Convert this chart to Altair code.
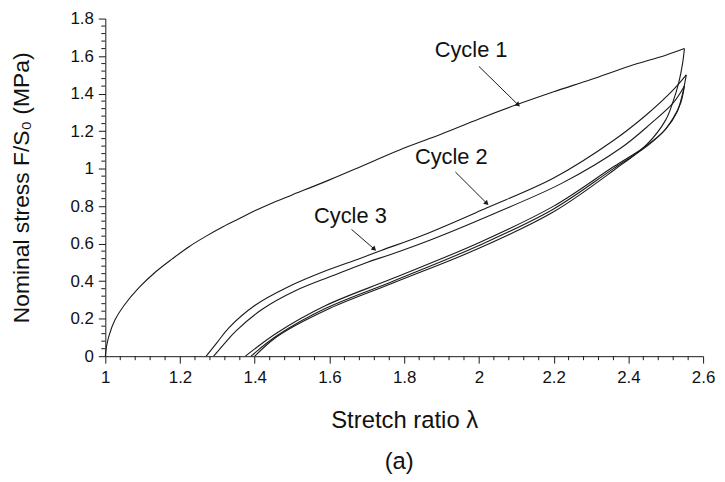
import altair as alt
import pandas as pd

# ---------------- data ----------------
c1_load_x = [1.0, 1.003, 1.01, 1.025, 1.05, 1.09, 1.135, 1.18, 1.225, 1.27, 1.315, 1.36, 1.40, 1.45, 1.50, 1.60, 1.70, 1.80, 1.90, 2.00, 2.10, 2.20, 2.30, 2.40, 2.50, 2.55]
c1_load_y = [0.0, 0.05, 0.11, 0.19, 0.27, 0.365, 0.45, 0.52, 0.585, 0.64, 0.69, 0.735, 0.775, 0.82, 0.86, 0.94, 1.025, 1.11, 1.185, 1.265, 1.34, 1.41, 1.475, 1.545, 1.605, 1.64]

c1_unload_x = [2.55, 2.545, 2.535, 2.52, 2.50, 2.45, 2.36, 2.20, 2.00, 1.77, 1.59, 1.46, 1.40]
c1_unload_y = [1.64, 1.56, 1.46, 1.36, 1.26, 1.13, 0.99, 0.77, 0.575, 0.39, 0.245, 0.105, 0.0]

c2_load_x = [1.27, 1.30, 1.33, 1.40, 1.49, 1.59, 1.68, 1.74, 1.85, 2.02, 2.20, 2.36, 2.45, 2.52, 2.555]
c2_load_y = [0.0, 0.075, 0.15, 0.27, 0.37, 0.455, 0.52, 0.565, 0.645, 0.79, 0.95, 1.15, 1.29, 1.42, 1.50]

c2_unload_x = [2.555, 2.545, 2.53, 2.50, 2.45, 2.36, 2.20, 2.00, 1.77, 1.59, 1.46, 1.39]
c2_unload_y = [1.50, 1.40, 1.30, 1.21, 1.12, 1.00, 0.785, 0.59, 0.40, 0.255, 0.11, 0.0]

c3_load_x = [1.29, 1.32, 1.35, 1.42, 1.51, 1.61, 1.70, 1.76, 1.87, 2.04, 2.22, 2.38, 2.46, 2.52, 2.55]
c3_load_y = [0.0, 0.07, 0.135, 0.25, 0.35, 0.43, 0.50, 0.54, 0.62, 0.76, 0.92, 1.11, 1.24, 1.35, 1.44]

c3_unload_x = [2.55, 2.54, 2.52, 2.49, 2.44, 2.36, 2.20, 2.00, 1.77, 1.59, 1.46, 1.375]
c3_unload_y = [1.44, 1.35, 1.27, 1.19, 1.11, 1.01, 0.80, 0.605, 0.415, 0.27, 0.125, 0.0]

labels_text = ["Cycle 1", "Cycle 2", "Cycle 3"]
labels_x = [1.979, 1.926, 1.656]
labels_y = [1.63, 1.06, 0.745]
arrow_x0 = [2.00, 1.937, 1.659]
arrow_y0 = [1.545, 0.982, 0.676]
arrow_x1 = [2.105, 2.021, 1.720]
arrow_y1 = [1.34, 0.815, 0.571]

x_major = [1.0, 1.2, 1.4, 1.6, 1.8, 2.0, 2.2, 2.4, 2.6]
y_major = [0.0, 0.2, 0.4, 0.6, 0.8, 1.0, 1.2, 1.4, 1.6, 1.8]
x_minor = [round(1.0 + 0.04 * i, 2) for i in range(41) if i % 5 != 0]
y_minor = [round(0.04 * i, 2) for i in range(46) if i % 5 != 0]

# ---------------- tables ----------------
rows = []
for name, xs_, ys_ in [("c1_load", c1_load_x, c1_load_y), ("c1_unload", c1_unload_x, c1_unload_y),
                       ("c2_load", c2_load_x, c2_load_y), ("c2_unload", c2_unload_x, c2_unload_y),
                       ("c3_load", c3_load_x, c3_load_y), ("c3_unload", c3_unload_x, c3_unload_y)]:
    for i, (a, b) in enumerate(zip(xs_, ys_)):
        rows.append({"x": a, "y": b, "s": name, "o": i})
curves = pd.DataFrame(rows)

lab = pd.DataFrame({"t": labels_text, "x": labels_x, "y": labels_y})
arr_rows = []
for i in range(3):
    arr_rows.append({"x": arrow_x0[i], "y": arrow_y0[i], "s": i, "o": 0})
    arr_rows.append({"x": arrow_x1[i], "y": arrow_y1[i], "s": i, "o": 1})
arr = pd.DataFrame(arr_rows)
heads = pd.DataFrame({"x": arrow_x1, "y": arrow_y1})

W, H = 602, 340
FONT = "Liberation Sans"
INK = "#1a1a1a"
xs = alt.Scale(domain=[1.0, 2.6], nice=False, zero=False)
ys = alt.Scale(domain=[0.0, 1.8], nice=False, zero=False)

x_axis = alt.Axis(values=x_major, title="Stretch ratio λ", format="~g", tickSize=7,
                  labelPadding=6, labelOverlap=False, labelFlush=False,
                  titleFontSize=24, titleBaseline="middle", titleY=65)
y_axis = alt.Axis(values=y_major, title="Nominal stress F/S₀ (MPa)", format="~g", tickSize=7,
                  labelPadding=5, labelOverlap=False, labelFlush=False,
                  titleFontSize=23, titleX=-72)


def X(field):
    return alt.X(field, scale=xs, axis=x_axis)


def Y(field):
    return alt.Y(field, scale=ys, axis=y_axis)


lines = alt.Chart(curves).mark_line(color=INK, strokeWidth=1.1, interpolate="catmull-rom").encode(
    x=X("x:Q"), y=Y("y:Q"), detail="s:N", order="o:Q")

xminor = alt.Chart(pd.DataFrame({"v": x_minor})).mark_rule(color=INK, strokeWidth=1).encode(
    x=X("v:Q"), y=alt.value(H), y2=alt.value(H + 4))
yminor = alt.Chart(pd.DataFrame({"v": y_minor})).mark_rule(color=INK, strokeWidth=1).encode(
    y=Y("v:Q"), x=alt.value(0), x2=alt.value(-4))

texts = alt.Chart(lab).mark_text(font=FONT, fontSize=22, color="#111").encode(
    x=X("x:Q"), y=Y("y:Q"), text="t:N")
arrows = alt.Chart(arr).mark_line(color=INK, strokeWidth=1).encode(
    x=X("x:Q"), y=Y("y:Q"), detail="s:N", order="o:Q")
arrowheads = alt.Chart(heads).mark_point(shape="triangle-up", filled=True, size=30,
                                         color=INK, angle=134, opacity=1).encode(
    x=X("x:Q"), y=Y("y:Q"))

sub = alt.Chart(pd.DataFrame({"t": ["(a)"]})).mark_text(
    font=FONT, fontSize=24, color="#111", baseline="middle").encode(
    x=alt.value(296), y=alt.value(447), text="t:N")

chart = alt.layer(lines, xminor, yminor, arrows, arrowheads, texts, sub).properties(
    width=W, height=H,
    autosize=alt.AutoSizeParams(type="none"),
    padding={"left": 98, "top": 9, "right": 14, "bottom": 118},
).configure_view(stroke=None).configure_axis(
    labelFont=FONT, titleFont=FONT, labelFontSize=17,
    labelColor="#111", titleColor="#111", titleFontWeight="normal",
    domainColor=INK, tickColor=INK, grid=False,
)

chart.save("out.html", embed_options={"renderer": "svg", "actions": False})
